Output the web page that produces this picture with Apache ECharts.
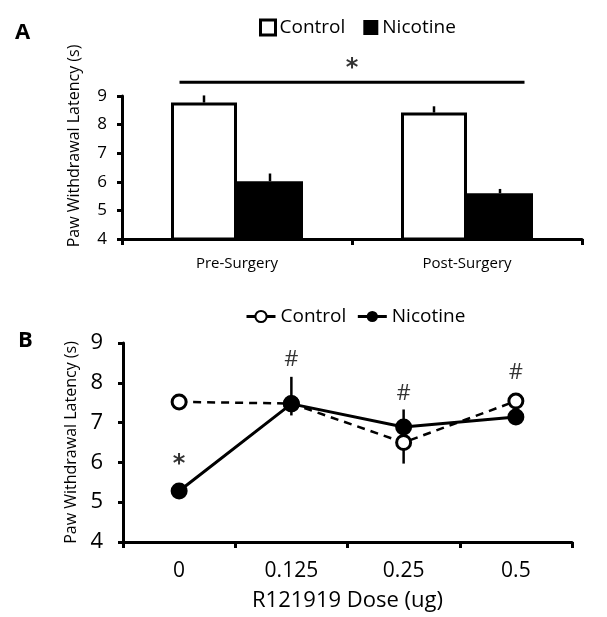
<!DOCTYPE html>
<html>
<head>
<meta charset="utf-8">
<script src="https://cdn.jsdelivr.net/npm/echarts@6/dist/echarts.min.js"></script>
<style>
html,body{margin:0;padding:0;background:#fff;}
#chart{width:607px;height:617px;}
</style>
</head>
<body>
<div id="chart"></div>
<script>
// ---------- Panel A data ----------
const categoriesA = ['Pre-Surgery', 'Post-Surgery'];
const controlA = [8.77, 8.42];
const nicotineA = [6.02, 5.60];
const controlErrA = [0.25, 0.22];
const nicotineErrA = [0.27, 0.15];
const yTicksA = [4, 5, 6, 7, 8, 9];
// significance bracket (in category units) and its mark
const sigBracketA = [[0.25, 9.48], [1.75, 9.48]];
const sigMarkA = [[1, 10.1]];
const sigTextA = ['*'];

// ---------- Panel B data ----------
const dosesB = ['0', '0.125', '0.25', '0.5'];
const controlB = [7.52, 7.48, 6.50, 7.54];
const nicotineB = [5.28, 7.47, 6.89, 7.14];
const nicotineErrUpB = [0, 0.68, 0.44, 0];
const controlErrDownB = [0, 0.30, 0.53, 0];
const yTicksB = [4, 5, 6, 7, 8, 9];
const annotYB = [6.05, 8.57, 7.73, 8.25];
const annotTextB = ['*', '#', '#', '#'];

const FONT = 'Open Sans';
const BAR_W = 66;

const chart = echarts.init(document.getElementById('chart'), null, {renderer: 'canvas'});

function errRender(offsetSign, dir) {
  return function (params, api) {
    const x = api.value(0), v = api.value(1), e = api.value(2);
    if (!e) return null;
    const p0 = api.coord([x, v]);
    const p1 = api.coord([x, v + dir * e]);
    const dx = offsetSign * BAR_W / 2;
    return {
      type: 'line',
      shape: {x1: p0[0] + dx, y1: p0[1], x2: p1[0] + dx, y2: p1[1]},
      style: {stroke: '#000', lineWidth: 2.5}
    };
  };
}
function errRenderB(dir) {
  return function (params, api) {
    const x = api.value(0), v = api.value(1), e = api.value(2);
    if (!e) return null;
    const p0 = api.coord([x, v]);
    const p1 = api.coord([x, v + dir * e]);
    return {
      type: 'line',
      shape: {x1: p0[0], y1: p0[1], x2: p1[0], y2: p1[1]},
      style: {stroke: '#000', lineWidth: 2.5}
    };
  };
}

const axisLineStyle = {show: true, lineStyle: {color: '#000', width: 3}};
const tickStyle = {show: true, length: 5, lineStyle: {color: '#000', width: 3}};

const option = {
  animation: false,
  backgroundColor: '#fff',
  textStyle: {fontFamily: FONT, color: '#000'},
  title: [
    {text: 'A', left: 15, top: 22, padding: 0, textStyle: {fontFamily: FONT, fontSize: 22, fontWeight: 'bold', color: '#000'}},
    {text: 'B', left: 18, top: 330, padding: 0, textStyle: {fontFamily: FONT, fontSize: 22, fontWeight: 'bold', color: '#000'}}
  ],
  legend: [
    {
      left: 259, top: 18, padding: 0,
      itemWidth: 15, itemHeight: 15, itemGap: 18,
      textStyle: {fontFamily: FONT, fontSize: 19, color: '#000', padding: [0, 0, 0, -1]},
      data: [
        {name: 'Control', icon: 'rect', itemStyle: {color: '#fff', borderColor: '#000', borderWidth: 3}},
        {name: 'Nicotine', icon: 'rect', itemStyle: {color: '#000'}}
      ],
      selectedMode: false
    },
    {
      left: 245, top: 307, padding: 0,
      itemWidth: 29, itemHeight: 14, itemGap: 10,
      textStyle: {fontFamily: FONT, fontSize: 19, color: '#000'},
      formatter: function (n) { return n.split('_')[0]; },
      data: [
        {name: 'Control_B', lineStyle: {type: 'solid', width: 3, color: '#000'}},
        {name: 'Nicotine_B', lineStyle: {type: 'solid', width: 3, color: '#000'}}
      ],
      selectedMode: false
    }
  ],
  grid: [
    {left: 122, top: 96, width: 460, height: 143},
    {left: 123, top: 343, width: 449, height: 199}
  ],
  xAxis: [
    {
      type: 'category', gridIndex: 0, data: categoriesA,
      axisLine: axisLineStyle, axisTick: Object.assign({}, tickStyle, {length: 6}),
      axisLabel: {fontFamily: FONT, fontSize: 15, color: '#000', margin: 17},
      splitLine: {show: false}
    },
    {
      type: 'value', gridIndex: 0, min: 0, max: 2, show: false
    },
    {
      type: 'category', gridIndex: 1, data: dosesB,
      axisLine: axisLineStyle, axisTick: Object.assign({}, tickStyle, {length: 6}),
      axisLabel: {fontFamily: FONT, fontSize: 21, color: '#000', margin: 19},
      name: 'R121919 Dose (ug)', nameLocation: 'middle', nameGap: 48,
      nameTextStyle: {fontFamily: FONT, fontSize: 22, color: '#000'},
      splitLine: {show: false}
    }
  ],
  yAxis: [
    {
      type: 'value', gridIndex: 0, min: yTicksA[0], max: yTicksA[yTicksA.length - 1], interval: 1,
      axisLine: axisLineStyle, axisTick: tickStyle,
      axisLabel: {fontFamily: FONT, fontSize: 17, color: '#000', margin: 15},
      splitLine: {show: false},
      name: 'Paw Withdrawal Latency (s)', nameLocation: 'middle', nameGap: 40,
      nameTextStyle: {fontFamily: FONT, fontSize: 16, color: '#000', padding: [0, 0, 0, 43]}
    },
    {
      type: 'value', gridIndex: 1, min: yTicksB[0], max: yTicksB[yTicksB.length - 1], interval: 1,
      axisLine: axisLineStyle, axisTick: tickStyle,
      axisLabel: {fontFamily: FONT, fontSize: 22, color: '#000', margin: 20},
      splitLine: {show: false},
      name: 'Paw Withdrawal Latency (s)', nameLocation: 'middle', nameGap: 40,
      nameTextStyle: {fontFamily: FONT, fontSize: 16, color: '#000'}
    }
  ],
  series: [
    {
      name: 'Control', type: 'bar', xAxisIndex: 0, yAxisIndex: 0,
      data: controlA, barWidth: BAR_W, barGap: '0%',
      itemStyle: {color: '#fff', borderColor: '#000', borderWidth: 3}, z: 2
    },
    {
      name: 'Nicotine', type: 'bar', xAxisIndex: 0, yAxisIndex: 0,
      data: nicotineA, barWidth: BAR_W, barGap: '0%',
      itemStyle: {color: '#000'}, z: 2
    },
    {
      type: 'custom', xAxisIndex: 0, yAxisIndex: 0, silent: true, z: 3,
      renderItem: errRender(-1, 1),
      data: controlA.map((v, i) => [i, v, controlErrA[i]])
    },
    {
      type: 'custom', xAxisIndex: 0, yAxisIndex: 0, silent: true, z: 3,
      renderItem: errRender(1, 1),
      data: nicotineA.map((v, i) => [i, v, nicotineErrA[i]])
    },
    {
      type: 'line', xAxisIndex: 1, yAxisIndex: 0, data: sigBracketA,
      symbol: 'none', clip: false, silent: true,
      lineStyle: {color: '#000', width: 3}
    },
    {
      type: 'scatter', xAxisIndex: 1, yAxisIndex: 0, data: sigMarkA,
      symbolSize: 0, clip: false, silent: true,
      label: {show: true, position: 'inside', formatter: (p) => sigTextA[p.dataIndex],
        fontFamily: 'DejaVu Sans', fontSize: 24, fontWeight: 'bold', color: '#000', offset: [0, 4]}
    },
    // Panel B
    {
      type: 'custom', xAxisIndex: 2, yAxisIndex: 1, silent: true, z: 1,
      renderItem: errRenderB(1),
      data: nicotineB.map((v, i) => [i, v, nicotineErrUpB[i]])
    },
    {
      type: 'custom', xAxisIndex: 2, yAxisIndex: 1, silent: true, z: 1,
      renderItem: errRenderB(-1),
      data: controlB.map((v, i) => [i, v, controlErrDownB[i]])
    },
    {
      name: 'Control_B', type: 'line', xAxisIndex: 2, yAxisIndex: 1,
      data: controlB, symbol: 'circle', symbolSize: 14, z: 2,
      itemStyle: {color: '#fff', borderColor: '#000', borderWidth: 3},
      lineStyle: {color: '#000', width: 2.5, type: [8, 6]}
    },
    {
      name: 'Nicotine_B', type: 'line', xAxisIndex: 2, yAxisIndex: 1,
      data: nicotineB, symbol: 'circle', symbolSize: 17, z: 3,
      itemStyle: {color: '#000', borderColor: '#000', borderWidth: 0},
      lineStyle: {color: '#000', width: 3}
    },
    {
      type: 'scatter', xAxisIndex: 2, yAxisIndex: 1,
      data: annotYB.map((v, i) => ({
        value: [i, v],
        label: annotTextB[i] === '*' ? {fontFamily: 'DejaVu Sans', fontWeight: 'bold', fontSize: 24, offset: [0, 4]} : {}
      })),
      symbolSize: 0, silent: true, clip: false,
      label: {show: true, position: 'inside',
        formatter: (p) => annotTextB[p.dataIndex],
        fontFamily: FONT, fontSize: 22, color: '#000'}
    }
  ]
};
chart.setOption(option);
</script>
</body>
</html>
